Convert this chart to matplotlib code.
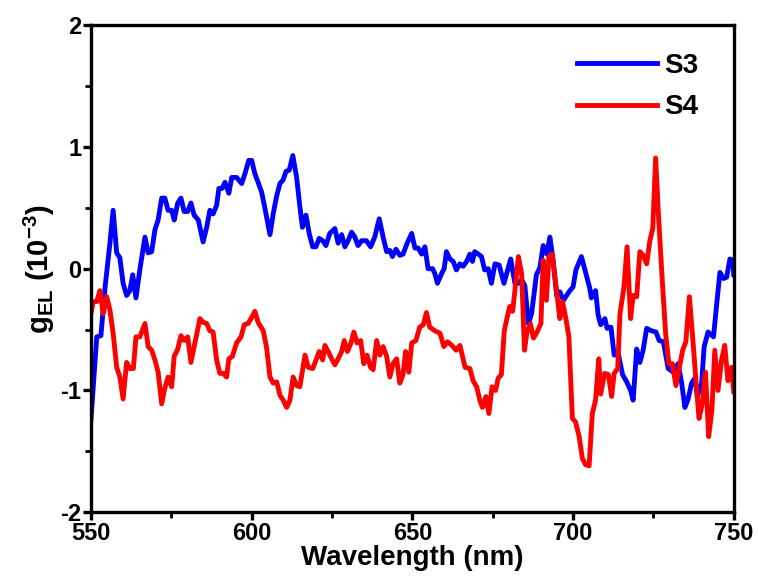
import matplotlib
matplotlib.use("Agg")
import matplotlib.pyplot as plt
from matplotlib.ticker import MultipleLocator

plt.rcParams['font.family'] = ['Liberation Sans', 'DejaVu Sans']
plt.rcParams['font.weight'] = 'bold'
plt.rcParams['axes.unicode_minus'] = False
plt.rcParams['mathtext.fontset'] = 'custom'
plt.rcParams['mathtext.rm'] = 'Liberation Sans:bold'
plt.rcParams['mathtext.it'] = 'Liberation Sans:bold'
plt.rcParams['mathtext.bf'] = 'Liberation Sans:bold'

# --- S3 (blå) ---
s3_wl = [550.0, 551.8, 553.1, 554.4, 555.9, 556.9, 558.0, 559.0, 560.0, 561.1, 562.1, 563.0,
         564.0, 565.2, 566.8, 567.8, 568.9, 569.9, 570.9, 572.0, 573.0, 574.0, 575.1, 575.9,
         577.0, 578.0, 579.0, 580.1, 581.1, 582.1, 583.4, 584.9, 586.0, 587.0, 588.0, 589.1,
         589.8, 590.8, 591.7, 592.9, 593.8, 595.3, 596.9, 597.9, 599.1, 600.0, 601.0, 602.0,
         603.1, 604.1, 605.7, 606.7, 607.8, 608.8, 609.8, 610.7, 611.7, 612.8, 614.0, 615.0,
         615.8, 616.9, 617.9, 619.0, 620.0, 621.0, 622.1, 623.1, 624.3, 625.9, 626.9, 628.0,
         629.0, 630.0, 631.1, 632.1, 633.1, 634.2, 635.7, 637.0, 638.3, 639.7, 640.9, 642.0,
         643.0, 643.8, 644.9, 646.1, 647.1, 648.4, 649.8, 650.8, 651.8, 652.9, 653.9, 654.9,
         656.3, 657.0, 657.8, 659.1, 659.9, 660.6, 661.7, 662.7, 663.7, 664.8, 665.8, 666.9,
         667.9, 668.7, 669.4, 670.5, 671.5, 672.5, 673.6, 674.6, 675.7, 677.0, 678.5, 680.6,
         681.9, 683.0, 684.0, 685.0, 686.1, 687.1, 688.6, 689.7, 690.7, 691.8, 692.8, 693.8,
         694.9, 695.9, 697.0, 698.0, 699.0, 700.0, 700.9, 702.6, 704.0, 705.2, 705.7, 707.0,
         707.8, 708.6, 709.9, 710.6, 711.8, 712.8, 714.1, 715.4, 716.7, 717.9, 718.7, 719.8,
         720.8, 721.8, 722.9, 724.4, 725.8, 726.8, 728.1, 729.6, 731.2, 732.7, 733.8, 734.8,
         735.8, 736.9, 737.9, 738.7, 740.0, 740.8, 742.0, 743.7, 744.7, 745.7, 746.8, 747.8,
         748.8, 749.7, 750.0]
s3_g = [-1.24, -0.56, -0.55, -0.15, 0.21, 0.48, 0.13, 0.09, -0.12, -0.22, -0.18, -0.05,
        -0.24, -0.01, 0.26, 0.13, 0.14, 0.32, 0.40, 0.58, 0.58, 0.48, 0.48, 0.40,
        0.54, 0.58, 0.47, 0.47, 0.54, 0.44, 0.40, 0.22, 0.34, 0.48, 0.45, 0.52,
        0.66, 0.66, 0.71, 0.62, 0.75, 0.75, 0.70, 0.78, 0.89, 0.89, 0.78, 0.71,
        0.63, 0.50, 0.28, 0.45, 0.60, 0.70, 0.73, 0.80, 0.81, 0.93, 0.75, 0.51,
        0.34, 0.44, 0.29, 0.18, 0.18, 0.25, 0.23, 0.19, 0.29, 0.33, 0.21, 0.28,
        0.18, 0.23, 0.30, 0.26, 0.19, 0.23, 0.23, 0.18, 0.26, 0.41, 0.26, 0.14,
        0.15, 0.10, 0.16, 0.11, 0.12, 0.21, 0.29, 0.17, 0.17, 0.12, 0.18, 0.00,
        0.00, -0.04, -0.12, -0.04, 0.00, 0.14, 0.08, 0.06, -0.01, 0.04, 0.02, 0.06,
        0.12, 0.06, 0.14, 0.12, 0.10, -0.01, 0.00, -0.12, 0.04, 0.03, -0.12, 0.08,
        -0.12, -0.12, -0.09, -0.14, -0.45, -0.37, -0.05, 0.01, 0.19, 0.12, 0.26, 0.07,
        -0.22, -0.19, -0.26, -0.22, -0.18, -0.15, -0.01, 0.10, -0.04, -0.16, -0.24, -0.18,
        -0.38, -0.46, -0.41, -0.49, -0.48, -0.71, -0.70, -0.87, -0.93, -1.00, -1.08, -0.66,
        -0.77, -0.67, -0.49, -0.51, -0.52, -0.59, -0.60, -0.82, -0.85, -0.78, -0.94, -1.14,
        -1.07, -0.94, -0.90, -1.05, -0.94, -0.64, -0.52, -0.56, -0.29, -0.03, -0.08, -0.07,
        0.08, 0.07, -0.05]

# --- S4 (rød) ---
s4_wl = [550.0, 550.7, 551.8, 552.8, 553.8, 554.9, 555.9, 556.9, 558.0, 559.0, 560.0, 561.1,
         562.1, 563.2, 564.0, 565.2, 566.8, 567.8, 568.9, 569.9, 570.9, 572.0, 573.0, 574.0,
         575.1, 575.9, 577.0, 578.0, 579.0, 580.1, 581.1, 582.1, 583.9, 584.9, 586.0, 587.0,
         588.0, 589.1, 590.1, 591.2, 592.2, 592.9, 594.0, 595.3, 596.7, 597.7, 598.9, 600.0,
         601.0, 602.0, 603.6, 604.6, 605.7, 606.7, 607.8, 608.8, 609.8, 610.9, 611.9, 612.9,
         614.0, 615.0, 616.6, 617.6, 619.0, 620.2, 621.0, 622.1, 622.8, 623.8, 624.9, 625.9,
         626.9, 628.0, 628.8, 629.8, 630.9, 631.8, 632.8, 633.9, 634.9, 635.9, 637.0, 637.8,
         638.9, 639.9, 640.9, 642.0, 643.0, 644.0, 645.1, 646.1, 647.1, 647.9, 648.9, 649.8,
         651.1, 652.3, 653.4, 654.4, 655.4, 657.0, 658.6, 659.8, 660.9, 662.3, 663.6, 664.8,
         666.4, 667.9, 668.9, 670.0, 671.0, 671.8, 672.9, 673.8, 674.8, 675.9, 676.7, 677.7,
         678.6, 679.5, 680.3, 681.2, 681.9, 683.0, 684.0, 684.9, 685.6, 686.7, 687.7, 688.8,
         690.0, 690.7, 691.7, 692.5, 693.5, 694.6, 695.9, 696.7, 697.7, 698.7, 699.8, 700.8,
         701.9, 702.9, 703.9, 705.0, 706.0, 707.0, 708.0, 708.6, 709.8, 711.0, 712.0, 712.8,
         713.9, 714.6, 715.8, 716.8, 717.9, 718.7, 719.8, 720.8, 721.8, 722.9, 723.9, 724.8,
         725.7, 726.6, 727.7, 728.8, 729.8, 730.9, 732.0, 733.0, 734.1, 735.1, 736.2, 737.3,
         738.3, 739.2, 740.2, 741.2, 742.2, 743.2, 744.1, 745.1, 746.2, 747.2, 748.2, 749.3,
         750.0]
s4_g = [-0.37, -0.27, -0.27, -0.18, -0.37, -0.23, -0.34, -0.53, -0.81, -0.89, -1.07, -0.77,
        -0.82, -0.82, -0.56, -0.56, -0.45, -0.64, -0.67, -0.75, -0.85, -1.11, -0.98, -0.89,
        -0.97, -0.72, -0.66, -0.55, -0.59, -0.56, -0.77, -0.64, -0.41, -0.44, -0.45, -0.51,
        -0.52, -0.75, -0.86, -0.86, -0.89, -0.74, -0.72, -0.61, -0.56, -0.46, -0.45, -0.40,
        -0.35, -0.44, -0.51, -0.64, -0.89, -0.94, -0.93, -1.04, -1.08, -1.14, -1.08, -0.89,
        -0.96, -0.97, -0.71, -0.81, -0.82, -0.74, -0.68, -0.75, -0.63, -0.68, -0.74, -0.79,
        -0.74, -0.68, -0.59, -0.68, -0.61, -0.52, -0.61, -0.59, -0.78, -0.71, -0.81, -0.83,
        -0.59, -0.71, -0.64, -0.72, -0.89, -0.78, -0.74, -0.94, -0.87, -0.68, -0.85, -0.61,
        -0.59, -0.48, -0.46, -0.36, -0.48, -0.51, -0.53, -0.64, -0.60, -0.63, -0.67, -0.63,
        -0.81, -0.82, -0.92, -0.97, -1.08, -1.14, -1.05, -1.19, -0.97, -1.00, -0.90, -0.87,
        -0.51, -0.40, -0.31, -0.35, -0.18, 0.10, -0.04, -0.67, -0.53, -0.45, -0.57, -0.52,
        -0.45, 0.07, -0.26, 0.10, 0.12, -0.12, -0.41, -0.27, -0.40, -0.56, -1.23, -1.26,
        -1.38, -1.56, -1.61, -1.62, -1.19, -1.08, -0.74, -1.03, -0.86, -0.87, -1.05, -0.86,
        -0.82, -0.37, -0.16, 0.18, -0.41, -0.22, -0.23, 0.14, 0.11, 0.04, 0.23, 0.33,
        0.91, 0.43, -0.07, -0.53, -0.78, -0.78, -0.96, -0.82, -0.67, -0.60, -0.23, -0.59,
        -0.94, -1.23, -1.11, -0.85, -1.38, -1.16, -0.67, -1.00, -0.75, -0.63, -0.92, -0.81,
        -1.01]

fig = plt.figure(figsize=(7.58, 5.88), dpi=100)
ax = fig.add_axes([0.120, 0.129, 0.848, 0.828])

ax.plot(s3_wl, s3_g, color="#0000ff", lw=3.5, label="S3", solid_joinstyle="round")
ax.plot(s4_wl, s4_g, color="#ff0000", lw=3.5, label="S4", solid_joinstyle="round")

ax.set_xlim(550, 750)
ax.set_ylim(-2, 2)
ax.set_xticks([550, 600, 650, 700, 750])
ax.set_yticks([-2, -1, 0, 1, 2])
ax.xaxis.set_minor_locator(MultipleLocator(25))
ax.yaxis.set_minor_locator(MultipleLocator(0.5))

for sp in ax.spines.values():
    sp.set_linewidth(2.4)
ax.tick_params(which="major", direction="out", length=6, width=2.4, labelsize=17)
ax.tick_params(which="minor", direction="out", length=4, width=2.0)
ax.tick_params(axis="both", pad=1)

ax.set_xlabel("Wavelength (nm)", fontsize=20, fontweight="bold", labelpad=0)
ax.set_ylabel(r"$\mathregular{g_{EL}}$ (10$^{-3}$)", fontsize=21, fontweight="bold", labelpad=2)

leg = ax.legend(loc="upper right", bbox_to_anchor=(0.945, 0.943), frameon=False,
                fontsize=20, handlelength=2.9, handletextpad=0.25, labelspacing=0.55,
                borderaxespad=0, borderpad=0)
for t in leg.get_texts():
    t.set_fontweight("bold")

fig.savefig("out.png", dpi=100)
